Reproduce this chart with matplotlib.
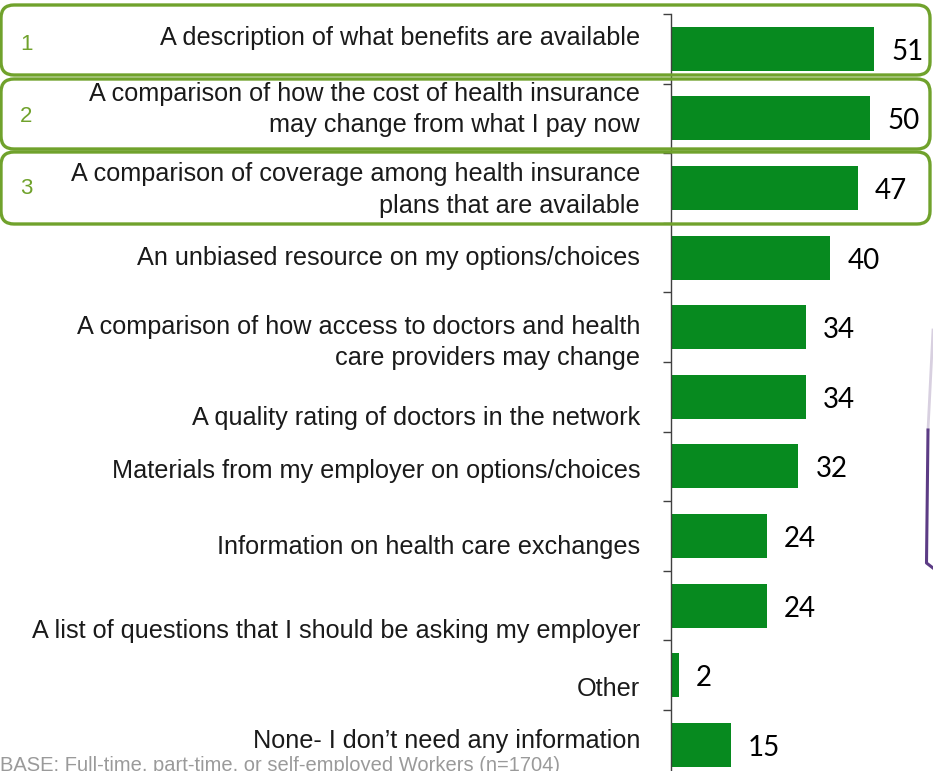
import matplotlib.pyplot as plt
from matplotlib.patches import FancyBboxPatch
from matplotlib.lines import Line2D
import matplotlib.transforms as mtransforms

labels = [
    "A description of what benefits are available",
    "A comparison of how the cost of health insurance\nmay change from what I pay now",
    "A comparison of coverage among health insurance\nplans that are available",
    "An unbiased resource on my options/choices",
    "A comparison of how access to doctors and health\ncare providers may change",
    "A quality rating of doctors in the network",
    "Materials from my employer on options/choices",
    "Information on health care exchanges",
    "A list of questions that I should be asking my employer",
    "Other",
    "None- I don\u2019t need any information",
]
values = [51, 50, 47, 40, 34, 34, 32, 24, 24, 2, 15]
ranks = ["1", "2", "3"]
base_note = "BASE: Full-time, part-time, or self-employed Workers (n=1704)"

# vertical nudges of the category text relative to its bar (in rows)
label_shift = [-0.16, -0.13, 0.03, 0.0, 0.22, 0.30, 0.06, 0.16, 0.36, 0.20, -0.06]

W, H = 933, 771
BAR = "#078a1f"
FRAME = "#70a22c"

fig = plt.figure(figsize=(W / 100, H / 100), dpi=100)


def fx(px):
    return px / W


def fy(py):
    return 1 - py / H


# axes: left edge at x=671, top at y=14, rows 69.6 px apart
row_h = 69.6
n = len(values)
ax = fig.add_axes([fx(671), fy(14 + n * row_h), 1 - fx(671), n * row_h / H])
ypos = list(range(n))
ax.barh(ypos, values, height=0.63, color=BAR, zorder=2)
ax.set_xlim(0, 262 / 3.98)
ax.set_ylim(n - 0.5, -0.5)

for s in ["top", "right", "bottom"]:
    ax.spines[s].set_visible(False)
ax.spines["left"].set_color("#404040")
ax.spines["left"].set_linewidth(1.0)
ax.set_xticks([])
ax.set_yticks([i - 0.5 for i in range(n + 1)])
ax.set_yticklabels([])
ax.tick_params(axis="y", direction="out", length=6, width=1.0, color="#404040")

for i, v in enumerate(values):
    ax.annotate(str(v), (v, i), xytext=(17, -3), textcoords="offset pixels",
                ha="left", va="center", fontsize=20, family="Lato", color="black")

lab_tr = mtransforms.blended_transform_factory(ax.transAxes, ax.transData)
for i, lab in enumerate(labels):
    ax.text(-31 / 262, i + label_shift[i], lab, transform=lab_tr, ha="right",
            va="center", fontsize=18.2, family="Liberation Sans", color="#1a1a1a",
            linespacing=1.4, clip_on=False)

# highlight frames around the top three rows
frames = [(5, 75), (79, 149), (152, 224)]
rank_y = [44, 117, 188]
for (top, bot), r, ry in zip(frames, ranks, rank_y):
    box = FancyBboxPatch((1 / 100, (H - bot) / 100), 929 / 100, (bot - top) / 100,
                         boxstyle="round,pad=0,rounding_size=0.13",
                         transform=fig.dpi_scale_trans, fill=False,
                         edgecolor=FRAME, linewidth=2.4, zorder=5)
    fig.patches.append(box)
    fig.text(fx(26), fy(ry), r, ha="center", va="center", fontsize=16,
             family="Liberation Sans", color=FRAME)

fig.text(0, fy(756), base_note, ha="left", va="top", fontsize=14.5,
         family="Liberation Sans", color="#9a9a9a")

# edge of a shape peeking in from the right
fig.lines.append(Line2D([fx(933), fx(928)], [fy(330), fy(430)],
                        transform=fig.transFigure, color="#d8d0e0", lw=2))
fig.lines.append(Line2D([fx(928), fx(926.5), fx(933)], [fy(430), fy(563), fy(568)],
                        transform=fig.transFigure, color="#5c3c85", lw=2.2))

fig.savefig("out.png", dpi=100)
